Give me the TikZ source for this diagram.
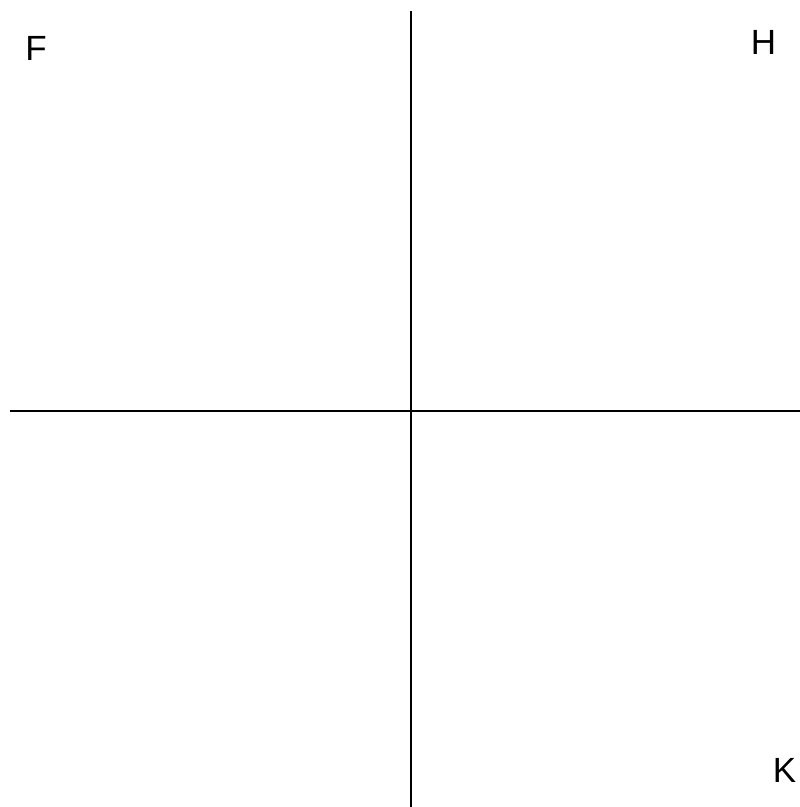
\documentclass[tikz,border=0pt]{standalone}
\usepackage{fontspec}
\setmainfont{Liberation Sans}
\begin{document}
\begin{tikzpicture}[x=1pt,y=-1pt,
    letter/.style={font=\fontsize{35}{40}\selectfont, inner sep=0pt}]
  \useasboundingbox (0,0) rectangle (800,807);
  \draw[line width=2pt] (411,11) -- (411,807);
  \draw[line width=2pt] (10,411) -- (800,411);
  \node[letter] (f) at (36,48) {F};
  \node[letter] (h) at (763.5,42) {H};
  \node[letter] (k) at (784.5,770) {K};
\end{tikzpicture}
\end{document}
